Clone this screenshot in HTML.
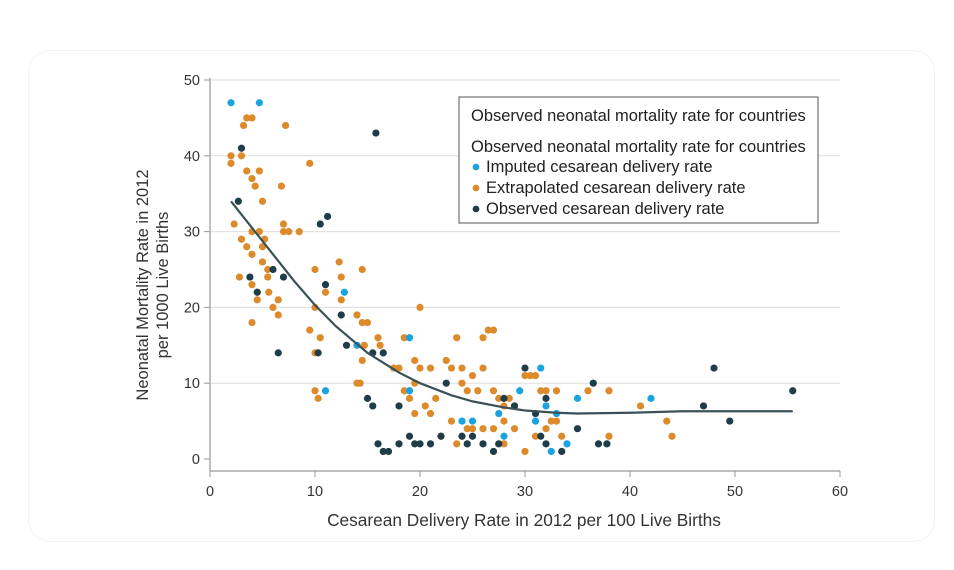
<!DOCTYPE html>
<html><head><meta charset="utf-8"><style>
body{margin:0;background:#fff;font-family:"Liberation Sans",sans-serif;}
#wrap{position:relative;width:954px;height:570px;overflow:hidden;background:#fff}
#card{position:absolute;left:28px;top:50px;width:905px;height:490px;border:1px solid #f3f3f3;border-radius:22px}
</style></head><body>
<div id="wrap">
<div id="card"></div>
<svg id="chart" width="954" height="570" style="position:absolute;left:0;top:0"></svg>
</div>
<script>
const xTicks=[0,10,20,30,40,50,60];
const yTicks=[0,10,20,30,40,50];
const imputedX=[2,4.7,12.8,14,19,19,11,25,24,28,29.5,31.5,32,31,32.5,34,35,42,27.5,33];
const imputedY=[47,47,22,15,16,9,9,5,5,3,9,12,7,5,1,2,8,8,6,6];
const observedX=[2.7,3,15.8,10.5,11.2,3.8,4.5,6,7,6.5,10.3,12.5,11,13,15.5,16.5,15,15.5,18,16,16.5,17,18,19,19.5,20,21,22,22.5,24,24.5,25,26,27,27.5,28,29,30,31,31.5,32,33.5,35,36.5,37,37.8,47,48,49.5,55.5,32];
const observedY=[34,41,43,31,32,24,22,25,24,14,14,19,23,15,14,14,8,7,7,2,1,1,2,3,2,2,2,3,10,3,2,3,2,1,2,8,7,12,6,3,8,1,4,10,2,2,7,12,5,9,2];
const extrapX=[2,2,2.3,3,3.2,3.5,4,3.5,4,4.7,5,4.3,3,3.5,4,2.8,4,4,4.7,5,5,5.5,5.5,4.5,4.5,4,6.8,7.2,9.5,7,7.5,7,8.5,5.6,6,6.5,6.5,5.2,10,10,12.3,12.5,14.5,11,12.5,10.5,9.5,10,10,10.3,14,14.5,15,14.7,14.5,14,14.3,16,16.2,17.5,18,20,18.5,19.5,20,21,19.5,18.5,19,19.5,21,21.5,20.5,22.5,23,24,23.5,26,26.5,25,24,26,27,27,28,29,28,30,31,30.5,31.5,32,33,36,38,41,43.5,44,23,22,23.5,24,24.5,25,26,27,28,29,30,31,32,33,33.5,38,32.5,27.5,28.5,24.5,25.5];
const extrapY=[40,39,31,40,44,45,45,38,37,38,34,36,29,28,27,24,23,30,30,28,26,24,25,22,21,18,36,44,39,31,30,30,30,22,20,21,19,29,25,20,26,24,25,22,21,16,17,14,9,8,19,18,18,15,13,10,10,16,15,12,12,20,16,13,12,12,10,9,8,6,6,8,7,13,12,12,16,16,17,11,10,12,17,9,7,7,5,11,11,11,9,9,9,9,9,7,5,3,5,3,2,3,4,4,4,4,2,4,1,3,4,5,3,3,5,8,8,9,9];
const fitX=[2,4,6,8,10,12,15,18,20,23,25,28,30,33,35,40,45,50,55.5];
const fitY=[34,30.5,27,23.5,20.3,17.5,14,11.4,10,8.4,7.6,6.8,6.4,6.1,6,6.1,6.3,6.3,6.3];
const NS="http://www.w3.org/2000/svg";
const svg=document.getElementById('chart');
const X0=210,X1=840,Y0=459,Y1=80;
function sx(v){return X0+(X1-X0)*v/60;}
function sy(v){return Y0-(Y0-Y1)*v/50;}
function mk(tag,attrs,parent){const e=document.createElementNS(NS,tag);for(const k in attrs)e.setAttribute(k,attrs[k]);(parent||svg).appendChild(e);return e;}
yTicks.forEach(t=>{
  if(t>0){const g=mk('line',{x1:X0,x2:X1,y1:sy(t),y2:sy(t),stroke:'#dedede','stroke-width':1});
  
  }
  const tk=mk('line',{x1:X0-6,x2:X0,y1:sy(t),y2:sy(t),stroke:'#999'});
  
  
  const l=mk('text',{x:X0-10,y:sy(t)+5,'text-anchor':'end','font-size':14.5,fill:'#333'});l.textContent=t;
  
  
});
const ya=mk('line',{x1:X0,x2:X0,y1:Y1-2,y2:471,stroke:'#aaa','stroke-width':1.5});


const xa=mk('line',{x1:X0,x2:X1,y1:471,y2:471,stroke:'#aaa','stroke-width':1.5});


xTicks.forEach(t=>{
  const tk=mk('line',{x1:sx(t),x2:sx(t),y1:471,y2:477,stroke:'#999'});
  
  
  const l=mk('text',{x:sx(t),y:496,'text-anchor':'middle','font-size':14.5,fill:'#333'});l.textContent=t;
  
  
});
const xt=mk('text',{x:524,y:526,'text-anchor':'middle','font-size':17.3,fill:'#333'});xt.textContent='Cesarean Delivery Rate in 2012 per 100 Live Births';


const yt=mk('text',{transform:'translate(148,285) rotate(-90)','text-anchor':'middle','font-size':16.5,fill:'#333'});
mk('tspan',{x:0,dy:0},yt).textContent='Neonatal Mortality Rate in 2012';
mk('tspan',{x:0,dy:20},yt).textContent='per 1000 Live Births';


function pts(xs,ys,color,name){
  xs.forEach((x,i)=>{const c=mk('circle',{cx:sx(x),cy:sy(ys[i]),r:3.6,fill:color});
  
  });
}
pts(extrapX,extrapY,'#dc8a2a','extrapolated');
pts(observedX,observedY,'#1f3d48','observed');
pts(imputedX,imputedY,'#1aa3e0','imputed');
const fit=mk('path',{d:fitX.map((x,i)=>(i?'L':'M')+sx(x)+','+sy(fitY[i])).join(''),fill:'none',stroke:'#3a5158','stroke-width':2.2});


const lg=mk('g',{});


mk('rect',{x:459,y:97,width:359,height:126,fill:'#fff',stroke:'#555','stroke-width':1},lg);
mk('text',{x:471,y:121,'font-size':16.5,fill:'#222'},lg).textContent='Observed neonatal mortality rate for countries';
mk('text',{x:471,y:152,'font-size':16.5,fill:'#222'},lg).textContent='Observed neonatal mortality rate for countries';
[['Imputed cesarean delivery rate','#1aa3e0'],['Extrapolated cesarean delivery rate','#dc8a2a'],['Observed cesarean delivery rate','#1f3d48']].forEach((d,i)=>{
  const y=172+i*21;
  const e=mk('g',{},lg);
  
  
  mk('circle',{cx:476,cy:y-5,r:3.4,fill:d[1]},e);
  mk('text',{x:486,y:y,'font-size':16.5,fill:'#222'},e).textContent=d[0];
});
</script>
</body></html>
